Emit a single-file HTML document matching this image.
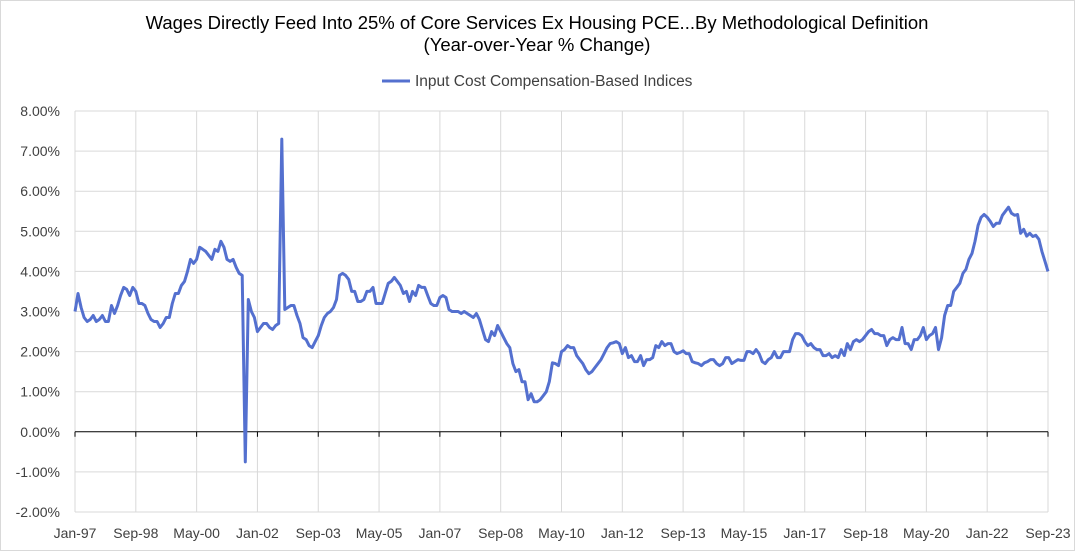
<!DOCTYPE html>
<html><head><meta charset="utf-8"><style>
body{margin:0;background:#fff;font-family:"Liberation Sans",sans-serif}
svg{display:block}
</style></head><body>
<svg width="1075" height="551" id="c">
<rect x="0.5" y="0.5" width="1074" height="550" fill="#fff" stroke="#d9d9d9"/>
<text x="537" y="29" text-anchor="middle" font-size="18.5" fill="#000">Wages Directly Feed Into 25% of Core Services Ex Housing PCE...By Methodological Definition</text>
<text x="537" y="51" text-anchor="middle" font-size="18.5" fill="#000">(Year-over-Year % Change)</text>
<g><line x1="382" y1="81" x2="410" y2="81" stroke="#5470cf" stroke-width="3"/>
<text x="415" y="86" font-size="15.5" fill="#404040">Input Cost Compensation-Based Indices</text></g>
<g id="grid"></g><g id="axes"></g><g id="series"></g>
</svg>
<script>
const yTicks=[-2,-1,0,1,2,3,4,5,6,7,8];
const xLabels=["Jan-97","Sep-98","May-00","Jan-02","Sep-03","May-05","Jan-07","Sep-08","May-10","Jan-12","Sep-13","May-15","Jan-17","Sep-18","May-20","Jan-22","Sep-23"];
const values=[3.0,3.45,3.1,2.85,2.75,2.8,2.9,2.75,2.8,2.9,2.75,2.75,3.15,2.95,3.15,3.4,3.6,3.55,3.4,3.6,
3.5,3.2,3.2,3.15,2.95,2.8,2.75,2.75,2.6,2.7,2.85,2.85,3.2,3.45,3.45,3.65,3.75,4.0,4.3,4.2,
4.3,4.6,4.55,4.5,4.4,4.3,4.55,4.5,4.75,4.6,4.3,4.25,4.3,4.1,3.95,3.9,-0.75,3.3,3.0,2.85,
2.5,2.6,2.7,2.7,2.6,2.55,2.65,2.7,7.3,3.05,3.1,3.15,3.15,2.9,2.7,2.35,2.3,2.15,2.1,2.25,
2.4,2.65,2.85,2.95,3.0,3.1,3.3,3.9,3.95,3.9,3.8,3.5,3.5,3.25,3.25,3.3,3.5,3.5,3.6,3.2,
3.2,3.2,3.45,3.7,3.75,3.85,3.75,3.65,3.45,3.5,3.25,3.5,3.4,3.65,3.6,3.6,3.4,3.2,3.15,3.15,
3.35,3.4,3.35,3.05,3.0,3.0,3.0,2.95,3.0,2.95,2.9,2.85,2.95,2.8,2.55,2.3,2.25,2.5,2.4,2.65,
2.5,2.35,2.2,2.1,1.7,1.5,1.55,1.25,1.25,0.8,0.95,0.75,0.75,0.8,0.9,1.0,1.25,1.72,1.7,1.65,
2.0,2.05,2.15,2.1,2.1,1.9,1.8,1.7,1.55,1.45,1.5,1.6,1.7,1.8,1.95,2.1,2.2,2.22,2.25,2.2,
1.95,2.1,1.85,1.9,1.75,1.75,1.9,1.65,1.8,1.8,1.85,2.15,2.1,2.25,2.15,2.2,2.2,2.0,1.95,1.98,
2.02,1.95,1.95,1.75,1.72,1.7,1.65,1.72,1.75,1.8,1.8,1.7,1.65,1.7,1.85,1.85,1.7,1.75,1.8,1.78,
1.78,2.0,2.0,1.95,2.05,1.95,1.75,1.7,1.8,1.85,2.0,1.85,1.85,2.0,2.0,2.0,2.3,2.45,2.45,2.4,
2.25,2.15,2.2,2.1,2.05,2.05,1.9,1.9,1.95,1.85,1.9,1.85,2.05,1.9,2.2,2.05,2.25,2.3,2.25,2.3,
2.4,2.5,2.55,2.45,2.45,2.4,2.4,2.15,2.3,2.35,2.3,2.3,2.6,2.2,2.2,2.05,2.3,2.3,2.4,2.6,
2.3,2.4,2.45,2.6,2.05,2.35,2.9,3.15,3.15,3.5,3.6,3.7,3.95,4.05,4.3,4.45,4.75,5.15,5.35,5.42,
5.35,5.25,5.12,5.2,5.2,5.4,5.5,5.6,5.45,5.4,5.42,4.95,5.05,4.88,4.95,4.87,4.9,4.8,4.5,4.25,4.0];
const NS="http://www.w3.org/2000/svg";
const X0=75,X1=1048,Y8=111,Ym2=512;
const xs=i=>X0+(X1-X0)*i/(values.length-1);
const ys=v=>Ym2-(v+2)*(Ym2-Y8)/10;
function mk(t,a,p){const e=document.createElementNS(NS,t);for(const k in a)e.setAttribute(k,a[k]);p.appendChild(e);return e;}
const grid=document.getElementById('grid'),axes=document.getElementById('axes'),ser=document.getElementById('series');
yTicks.forEach(v=>{
 const l=mk('line',{x1:X0,x2:X1,y1:ys(v),y2:ys(v),stroke:v===0?'#000':'#d9d9d9','stroke-width':1},v===0?axes:grid);
 
 
 const t=mk('text',{x:60,y:ys(v)+5,'text-anchor':'end','font-size':14,fill:'#404040'},axes);
 t.textContent=v.toFixed(2)+'%';
 
 
});
xLabels.forEach((s,i)=>{
 const x=X0+(X1-X0)*i/(xLabels.length-1);
 const g=mk('line',{x1:x,x2:x,y1:Y8,y2:Ym2,stroke:'#d9d9d9','stroke-width':1},grid);
 
 
 const tk=mk('line',{x1:x,x2:x,y1:ys(0),y2:ys(0)+5,stroke:'#000'},axes);
 
 
 const t=mk('text',{x:x,y:538,'text-anchor':'middle','font-size':14,fill:'#404040'},axes);
 t.textContent=s;
 
 
});
const p=mk('polyline',{points:values.map((v,i)=>xs(i).toFixed(1)+','+ys(v).toFixed(1)).join(' '),fill:'none',stroke:'#5470cf','stroke-width':3,'stroke-linejoin':'round'},ser);


</script>
</body></html>
